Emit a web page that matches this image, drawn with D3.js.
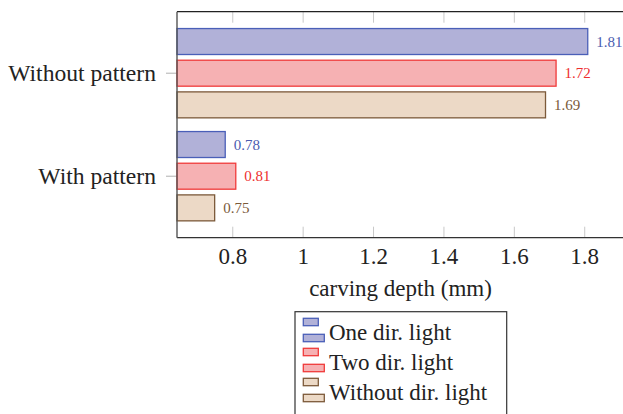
<!DOCTYPE html>
<html>
<head>
<meta charset="utf-8">
<script src="https://cdn.jsdelivr.net/npm/d3@7"></script>
<style>
  html, body { margin: 0; padding: 0; background: #fff; }
  svg, svg text { font-family: "Times New Roman", Times, "Liberation Serif", serif !important; }
</style>
</head>
<body>
<svg id="chart" width="623" height="414"></svg>
<script>
// Carving depth per condition
const categories = ["Without pattern", "With pattern"];
const seriesNames = ["One dir. light", "Two dir. light", "Without dir. light"];
const oneDirLight = [1.81, 0.78];
const twoDirLight = [1.72, 0.81];
const withoutDirLight = [1.69, 0.75];
const xTicks = [0.8, 1, 1.2, 1.4, 1.6, 1.8];
const xLabel = "carving depth (mm)";

const seriesValues = [oneDirLight, twoDirLight, withoutDirLight];
const fills = ["#b1b1d8", "#f6b1b3", "#ecd9c6"];
const strokes = ["#4a5fb8", "#f03a3a", "#7c5a3a"];
const labelColors = ["#4a5cb0", "#ee2e2e", "#7a5a3a"];

const svg = d3.select("#chart");
const plot = { left: 177, right: 624, top: 11.7, bottom: 237.7 };

const x = d3.scaleLinear().domain([0.643, 1.913]).range([plot.left, plot.right]);
const y = d3.scaleBand().domain(categories)
  .range([plot.top, plot.bottom]).paddingInner(0).paddingOuter(0.097);
const ySub = d3.scaleBand().domain(seriesNames)
  .range([-47.5, 47.5]).paddingInner(0.18).paddingOuter(0.09);

// tick marks along the top and bottom edges, pointing inward
const bottomAxis = svg.append("g")
  .attr("transform", `translate(0,${plot.bottom})`)
  .call(d3.axisBottom(x).tickValues(xTicks).tickSize(-11).tickPadding(9.5)
    .tickFormat(d3.format("")));
bottomAxis.select(".domain").remove();
bottomAxis.selectAll(".tick line").attr("stroke", "#c8c8c8");
bottomAxis.selectAll(".tick text").attr("font-size", 23).attr("fill", "#222");

const topAxis = svg.append("g")
  .attr("transform", `translate(0,${plot.top})`)
  .call(d3.axisTop(x).tickValues(xTicks).tickSize(-11).tickFormat(""));
topAxis.select(".domain").remove();
topAxis.selectAll(".tick line").attr("stroke", "#c8c8c8");

const leftAxis = svg.append("g")
  .attr("transform", `translate(${plot.left},0)`)
  .call(d3.axisLeft(y).tickSize(11).tickPadding(10));
leftAxis.select(".domain").remove();
leftAxis.selectAll(".tick line").attr("stroke", "#b0b0b0");
leftAxis.selectAll(".tick text").attr("font-size", 23.6).attr("fill", "#222");

// bars
categories.forEach((cat, ci) => {
  seriesNames.forEach((s, si) => {
    const v = seriesValues[si][ci];
    const yc = y(cat) + y.bandwidth() / 2 + ySub(s);
    svg.append("rect")
      .attr("x", x.range()[0])
      .attr("y", yc)
      .attr("width", x(v) - x.range()[0])
      .attr("height", ySub.bandwidth())
      .attr("fill", fills[si])
      .attr("stroke", strokes[si])
      .attr("stroke-width", 1.3);
    svg.append("text")
      .attr("x", x(v) + 8.5)
      .attr("y", yc + ySub.bandwidth() / 2 + 5)
      .attr("font-size", 15)
      .attr("fill", labelColors[si])
      .text(d3.format(".2f")(v));
  });
});

// frame
const frame = svg.append("g").attr("fill", "none");
frame.append("line").attr("x1", plot.left).attr("x2", plot.right)
  .attr("y1", plot.top).attr("y2", plot.top).attr("stroke", "#222").attr("stroke-width", 1.2);
frame.append("line").attr("x1", plot.left).attr("x2", plot.right)
  .attr("y1", plot.bottom).attr("y2", plot.bottom).attr("stroke", "#333").attr("stroke-width", 1.2);
frame.append("line").attr("x1", plot.left).attr("x2", plot.left)
  .attr("y1", plot.top).attr("y2", plot.bottom).attr("stroke", "#555").attr("stroke-width", 1.4);
frame.append("line").attr("x1", plot.right).attr("x2", plot.right)
  .attr("y1", plot.top).attr("y2", plot.bottom).attr("stroke", "#333").attr("stroke-width", 1.2);

// axis title
svg.append("text")
  .attr("x", (plot.left + plot.right) / 2)
  .attr("y", 296)
  .attr("text-anchor", "middle")
  .attr("font-size", 23)
  .attr("fill", "#222")
  .text(xLabel);

// legend
const legend = svg.append("g").attr("transform", "translate(295,311.7)");
legend.append("rect")
  .attr("x", 0).attr("y", 0).attr("width", 211.7).attr("height", 120)
  .attr("fill", "#fff").attr("stroke", "#333").attr("stroke-width", 1.2);
seriesNames.forEach((s, si) => {
  const row = legend.append("g").attr("transform", `translate(0,${si * 30})`);
  row.append("rect").attr("x", 8.3).attr("y", 6.6).attr("width", 15).attr("height", 7.4)
    .attr("fill", fills[si]).attr("stroke", strokes[si]).attr("stroke-width", 1.3);
  row.append("rect").attr("x", 8.3).attr("y", 22.6).attr("width", 21).attr("height", 7.4)
    .attr("fill", fills[si]).attr("stroke", strokes[si]).attr("stroke-width", 1.3);
  row.append("text").attr("x", 34).attr("y", 28.3)
    .attr("font-size", 23).attr("fill", "#222").text(s);
});
</script>
</body>
</html>
